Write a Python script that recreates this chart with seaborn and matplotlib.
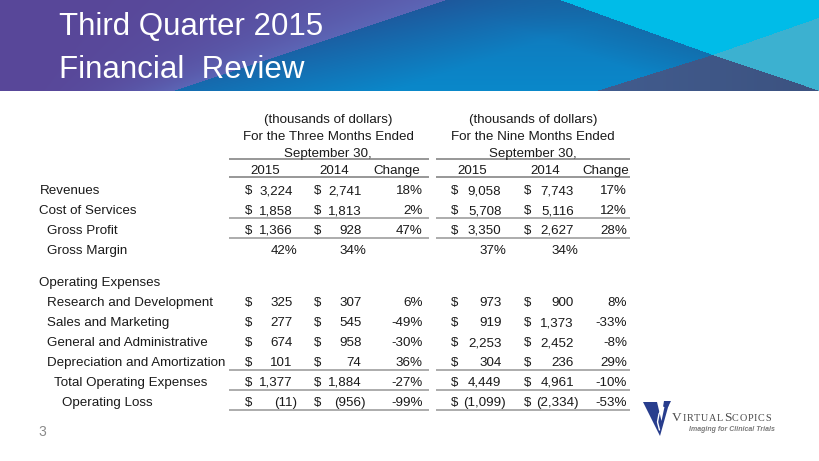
import numpy as np
import matplotlib
matplotlib.use("Agg")
import matplotlib.pyplot as plt
import seaborn as sns

# ---- data -------------------------------------------------------------
row_labels = ["Revenues", "Cost of Services", "Gross Profit", "Gross Margin",
              "Operating Expenses", "Research and Development", "Sales and Marketing",
              "General and Administrative", "Depreciation and Amortization",
              "Total Operating Expenses", "Operating Loss"]
q3_2015 = [3224, 1858, 1366, None, None, 325, 277, 674, 101, 1377, -11]
q3_2014 = [2741, 1813, 928, None, None, 307, 545, 958, 74, 1884, -956]
q3_change = [18, 2, 47, None, None, 6, -49, -30, 36, -27, -99]
ytd_2015 = [9058, 5708, 3350, None, None, 973, 919, 2253, 304, 4449, -1099]
ytd_2014 = [7743, 5116, 2627, None, None, 900, 1373, 2452, 236, 4961, -2334]
ytd_change = [17, 12, 28, None, None, 8, -33, -8, 29, -10, -53]
margin_q3 = [42, 34]
margin_ytd = [37, 34]
year_labels = ["2015", "2014", "Change"]
group_titles = [["(thousands of dollars)", "For the Three Months Ended", "September 30,"],
                ["(thousands of dollars)", "For the Nine Months Ended", "September 30,"]]

# ---- layout -----------------------------------------------------------
row_indent = [0, 0, 1, 1, 0, 1, 1, 1, 1, 2, 3]
margin_row = 3
ruled_rows = [1, 2, 8, 9, 10]
row_top, row_step, row_gap = 189.5, 19.9, 12.6
base = 4.6  # baseline offset from the visual row centre

# group: rule ends, $ columns, value right edges, change right edge, header centres
groups = [
    dict(l=229, r=429, d1=245, v1=292.5, d2=314, v2=361.5, ch=422.5, hc=[265, 334, 397], tc=328),
    dict(l=436, r=630, d1=451, v1=501.5, d2=523.5, v2=574, ch=627, hc=[472, 545, 606], tc=533),
]
hang = 4.6

sns.set_theme(style="white")
plt.rcParams["font.family"] = ["Liberation Sans", "DejaVu Sans"]

fig = plt.figure(figsize=(8.2, 4.61), dpi=100)
ax = fig.add_axes([0, 0, 1, 1])

# ---- banner -----------------------------------------------------------
H, W = 91, 820
X, Y = np.meshgrid(np.arange(W) + 0.5, np.arange(H) + 0.5)
bx = 447 - (447 - 177) * Y / 90
l1 = (X - 560) * 0.36
l2 = 55 - (X - 713) * 0.35
l3 = 55 + (X - 713) * 0.337
l4 = 90 - (X - 600) * 0.31


def lerp(a, b, t):
    a = np.array(a, float) / 255
    b = np.array(b, float) / 255
    t = np.clip(t, 0, 1)[..., None]
    return a + (b - a) * t


img = lerp((30, 88, 156), (10, 136, 202), np.clip((X - bx) / 220, 0, 1) * 0.6 + Y / 90 * 0.4)
dark = np.clip(1 - (Y - l1) / 45, 0, 1) * 0.55
img = img + (np.array([22, 98, 158]) / 255 - img) * dark[..., None]
purple = lerp((88, 71, 153), (92, 102, 182), (X / bx) ** 2.5)
img[X < bx] = purple[X < bx]
img[(Y < l1) & (Y < l2)] = np.array([0, 188, 232]) / 255
img[(X >= 713) & (Y >= l2) & (Y < l3)] = np.array([60, 178, 208]) / 255
slate = lerp((66, 92, 142), (60, 82, 128), (X - 600) / 220)
sm = (Y >= l4) & (Y >= l3)
img[sm] = slate[sm]
ax.imshow(img, extent=(0, W, H, 0), aspect="auto", interpolation="bilinear", zorder=0)

ax.text(59, 35, "Third Quarter 2015", color="white", fontsize=22.5, va="baseline")
ax.text(59, 77.5, "Financial  Review", color="white", fontsize=22.5, va="baseline")

# ---- table ------------------------------------------------------------
fs = 9.6
txt = "#1a1a1a"
rule_dark, rule_light = "#7a7a7a", "#a6a6a6"


def row_y(i):
    return row_top + i * row_step + (row_gap if i >= 4 else 0)


def put(x, y, s, ha):
    ax.text(x, y + base, s, fontsize=fs, color=txt, ha=ha, va="baseline")


def money(xd, xv, y, v):
    put(xd, y, "$", "left")
    if v < 0:
        put(xv + hang, y, "({:,})".format(-v), "right")
    else:
        put(xv, y, "{:,}".format(v), "right")


for i, lab in enumerate(row_labels):
    put(39.5 + 7.4 * row_indent[i], row_y(i), lab, "left")

series = [(q3_2015, q3_2014, q3_change, margin_q3), (ytd_2015, ytd_2014, ytd_change, margin_ytd)]
for gi, (g, (a, b, c, m)) in enumerate(zip(groups, series)):
    for k, line in enumerate(group_titles[gi]):
        put(g["tc"], 118.5 + k * 16.7, line, "center")
    for hx, lab in zip(g["hc"], year_labels):
        put(hx, 169.5, lab, "center")
    ax.hlines([159.5, 177.5], g["l"], g["r"], color=rule_dark, lw=1.1)
    for i in range(len(row_labels)):
        y = row_y(i)
        if a[i] is not None:
            money(g["d1"], g["v1"], y, a[i])
            money(g["d2"], g["v2"], y, b[i])
            put(g["ch"], y, "{}%".format(c[i]), "right")
        elif i == margin_row:
            put(g["v1"] + hang, y, "{}%".format(m[0]), "right")
            put(g["v2"] + hang, y, "{}%".format(m[1]), "right")
    ax.hlines([row_y(i) + 8.6 for i in ruled_rows], g["l"], g["r"], color=rule_light, lw=1.3)

# page number
ax.text(38, 435.5, "3", fontsize=10, color="#8a8a8a", ha="left", va="baseline")

# ---- logo -------------------------------------------------------------
ax.fill([643, 657, 661.5, 665.5, 669.5, 660], [402, 402, 421, 402, 402, 436], color="#283d8d", lw=0)
ax.plot([663, 659, 657.5, 659.5], [407, 414, 422, 430], color="white", lw=1.0)
ax.fill([664, 671, 668, 663], [401, 401, 407, 407], color="#283d8d", lw=0)

renderer = fig.canvas.get_renderer()
x = 672
for piece, size in [("V", 9.6), ("IRTUAL", 7.3), ("S", 9.6), ("COPICS", 7.3)]:
    for ch in piece:
        t = ax.text(x, 421, ch, fontsize=size, color="#4a4a4a", family="Liberation Serif",
                    ha="left", va="baseline")
        x += t.get_window_extent(renderer).width + 0.7
ax.text(774.5, 429.5, "Imaging for Clinical Trials", fontsize=5.0, color="#7a7a7a",
        style="italic", weight="bold", ha="right", va="center")

ax.set_xlim(0, 820)
ax.set_ylim(461, 0)
ax.axis("off")
fig.savefig("out.png", dpi=100, facecolor="white")
